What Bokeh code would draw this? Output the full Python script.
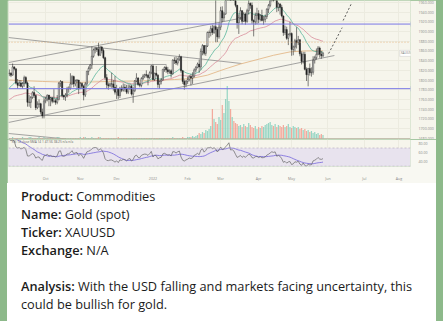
import numpy as np
import pandas as pd
from bokeh.plotting import figure
from bokeh.layouts import column
from bokeh.models import (ColumnDataSource, Range1d, FixedTicker, Label, Span,
                          BoxAnnotation, Div, PrintfTickFormatter)
from bokeh.embed import file_html
from bokeh.resources import INLINE

# ---------------- data (XAUUSD daily, Sep 2021 - May 2022) ----------------
warmup_closes = [1729, 1752, 1753, 1779, 1787, 1786, 1788, 1781, 1781, 1805,
                 1804, 1790, 1792, 1818, 1810, 1814]

closes = [
    # Sep
    1814, 1810, 1827, 1823, 1794, 1789, 1794, 1787, 1793, 1805, 1794, 1754, 1754, 1764, 1774, 1768, 1743, 1750, 1751, 1734, 1726, 1757,
    # Oct
    1761, 1769, 1760, 1763, 1756, 1757, 1754, 1760, 1793, 1797, 1768, 1765, 1769, 1782, 1783, 1792, 1807, 1792, 1798, 1800, 1783,
    # Nov
    1793, 1787, 1769, 1792, 1818, 1824, 1831, 1849, 1862, 1865, 1863, 1851, 1868, 1861, 1846, 1805, 1790, 1788, 1792, 1792, 1785, 1775,
    # Dec
    1782, 1768, 1783, 1779, 1785, 1783, 1775, 1783, 1787, 1771, 1778, 1798, 1804, 1791, 1789, 1803, 1808, 1811, 1810, 1805, 1815, 1829,
    # Jan
    1801, 1814, 1810, 1791, 1797, 1800, 1822, 1826, 1821, 1817, 1819, 1813, 1841, 1840, 1835, 1843, 1848, 1819, 1797, 1791, 1797,
    # Feb
    1801, 1807, 1804, 1808, 1821, 1826, 1833, 1827, 1859, 1871, 1855, 1870, 1898, 1898, 1906, 1898, 1910, 1904, 1889, 1909,
    # Mar
    1943, 1928, 1936, 1966, 1995, 2050, 1993, 1999, 1988, 1954, 1918, 1929, 1943, 1921, 1936, 1921, 1943, 1958, 1954, 1923, 1920, 1933, 1937,
    # Apr
    1925, 1933, 1923, 1925, 1931, 1946, 1954, 1966, 1978, 1974, 1979, 1950, 1957, 1950, 1932, 1898, 1904, 1886, 1894, 1896,
    # May
    1863, 1868, 1881, 1877, 1883, 1854, 1838, 1853, 1822, 1811, 1824, 1815, 1816, 1841, 1846, 1853, 1866, 1853, 1850, 1855,
]
highs = [
    1822, 1816, 1834, 1828, 1824, 1802, 1800, 1800, 1796, 1809, 1808, 1797, 1769, 1767, 1777, 1787, 1770, 1756, 1760, 1753, 1741, 1764,
    1765, 1770, 1769, 1765, 1765, 1781, 1761, 1769, 1796, 1800, 1797, 1770, 1773, 1786, 1787, 1814, 1810, 1809, 1801, 1802, 1800,
    1796, 1795, 1790, 1796, 1819, 1828, 1833, 1869, 1865, 1868, 1868, 1877, 1870, 1870, 1865, 1848, 1812, 1795, 1795, 1815, 1800, 1808,
    1790, 1783, 1786, 1789, 1793, 1792, 1790, 1791, 1791, 1790, 1785, 1800, 1814, 1806, 1795, 1806, 1812, 1813, 1820, 1812, 1818, 1831,
    1832, 1815, 1829, 1812, 1799, 1804, 1823, 1828, 1830, 1827, 1822, 1822, 1843, 1847, 1848, 1846, 1853, 1850, 1820, 1801, 1800,
    1807, 1810, 1812, 1816, 1824, 1829, 1836, 1842, 1865, 1874, 1872, 1872, 1900, 1902, 1912, 1914, 1913, 1974, 1909, 1917,
    1951, 1952, 1940, 1971, 2002, 2070, 2052, 2001, 2009, 1990, 1955, 1935, 1950, 1944, 1940, 1939, 1947, 1966, 1960, 1960, 1925, 1939, 1949,
    1944, 1936, 1945, 1932, 1935, 1948, 1957, 1978, 1981, 1985, 1998, 1983, 1960, 1958, 1955, 1933, 1912, 1910, 1896, 1920,
    1898, 1871, 1885, 1909, 1891, 1884, 1859, 1858, 1858, 1826, 1825, 1834, 1826, 1849, 1850, 1865, 1870, 1869, 1860, 1858,
]
lows = [
    1808, 1806, 1809, 1820, 1791, 1782, 1787, 1785, 1782, 1786, 1791, 1745, 1745, 1742, 1761, 1763, 1738, 1740, 1743, 1729, 1721, 1721,
    1752, 1756, 1746, 1746, 1752, 1753, 1749, 1750, 1758, 1786, 1764, 1759, 1757, 1764, 1774, 1780, 1790, 1785, 1787, 1781, 1771,
    1781, 1783, 1758, 1765, 1788, 1810, 1820, 1823, 1846, 1855, 1858, 1849, 1850, 1855, 1843, 1801, 1782, 1780, 1785, 1784, 1778, 1770,
    1761, 1761, 1763, 1775, 1776, 1776, 1771, 1771, 1780, 1768, 1753, 1775, 1795, 1788, 1785, 1785, 1800, 1804, 1805, 1789, 1801, 1812,
    1799, 1798, 1807, 1784, 1782, 1791, 1799, 1817, 1815, 1812, 1813, 1805, 1811, 1833, 1831, 1830, 1839, 1815, 1792, 1780, 1785,
    1792, 1797, 1789, 1792, 1805, 1816, 1824, 1815, 1821, 1851, 1851, 1850, 1868, 1887, 1890, 1893, 1895, 1878, 1878, 1885,
    1903, 1919, 1921, 1935, 1968, 1992, 1982, 1978, 1980, 1950, 1906, 1895, 1924, 1915, 1920, 1914, 1918, 1935, 1947, 1916, 1890, 1914, 1915,
    1917, 1921, 1921, 1914, 1919, 1926, 1938, 1950, 1962, 1962, 1970, 1940, 1942, 1935, 1929, 1891, 1893, 1883, 1872, 1890,
    1850, 1851, 1859, 1865, 1872, 1849, 1832, 1834, 1820, 1798, 1787, 1809, 1807, 1811, 1834, 1842, 1851, 1846, 1844, 1847,
]
first_open = 1813

volumes = [
    1, 1, 2, 1, 1, 1, 1, 1, 2, 1, 1, 1, 2, 2, 1, 1, 1, 1, 2, 1, 1, 2, 1, 1, 1, 1, 1, 1, 1, 2,
    2, 1, 1, 1, 1, 1, 1, 1, 1, 1, 1, 1, 1, 2, 1, 2, 2, 1, 1, 1, 2, 1, 1, 1, 2, 2, 1, 1, 1, 1,
    1, 1, 1, 1, 1, 1, 2, 1, 1, 1, 1, 1, 1, 1, 1, 1, 1, 1, 1, 1, 1, 1, 1, 1, 1, 1, 1, 1, 1, 1,
    1, 1, 1, 1, 1, 1, 1, 1, 1, 2, 1, 1, 1, 1, 1, 2, 1, 1, 2, 2, 2, 3, 2, 3, 4,
    6, 5, 7, 6, 9, 8, 10, 13, 30, 20, 17, 15, 22, 19, 34, 26, 40, 53, 38, 30, 22, 18, 16, 15, 13,
    14, 12, 15, 13, 12, 16, 14, 12, 11, 13, 10, 12, 11, 13, 12, 14, 15, 16, 17, 14, 13, 15, 12, 14,
    13, 12, 14, 12, 13, 15, 12, 11, 13, 12, 11, 12, 10, 11, 9, 10, 8, 9, 7, 8, 6, 7, 5, 6, 4, 5, 4,
]

# slow moving average (bar index, price)
slow_ma_bars = [0, 20, 40, 60, 80, 100, 110, 120, 130, 140, 150, 160, 170, 180, 190]
slow_ma_vals = [1800, 1797, 1795, 1797, 1798, 1801, 1803, 1810, 1822, 1833, 1842, 1851, 1858, 1860, 1860]

# month ticks (bar index of first trading day) and labels
tick_bars = [22, 43, 65, 87, 108, 128, 151, 171, 193, 215, 236]
tick_labels = ["Oct", "Nov", "Dec", "2022", "Feb", "Mar", "Apr", "May", "Jun", "Jul", "Aug"]
price_ticks = [1680, 1700, 1720, 1740, 1760, 1780, 1800, 1820, 1840, 1860, 1880, 1900, 1920, 1940, 1960]
rsi_ticks = [40, 60, 80]

# drawings (bar index, price)
trend_x0 = [-0.5, -0.5, -0.5, -0.5, -0.5, -0.5]
trend_y0 = [1836, 1887.6, 1832, 1712.4, 1726.8, 1689.7]
trend_x1 = [142.5, 140.7, 95.2, 196.9, 55, 34.4]
trend_y1 = [1928.9, 1834, 1832, 1850.5, 1726.8, 1678.4]
level_prices = [1915.399, 1782.150]
level_texts = ["1915.399", "1782.150"]
proj_x0 = [193.4, 202.2]
proj_y0 = [1854.6, 1922.7]
proj_x1 = [201.6, 207.5]
proj_y1 = [1908.0, 1959.8]
alert_price = 1878
last_price_text = "1855.425"

# ---------------- derived ----------------
n = len(closes)
opens = [first_open] + closes[:-1]
xs = list(range(n))
up = [c >= o for o, c in zip(opens, closes)]
all_c = pd.Series(warmup_closes + closes, dtype=float)
ema_fast = all_c.ewm(span=20, adjust=False).mean().iloc[len(warmup_closes):].tolist()
ema_mid = all_c.ewm(span=50, adjust=False).mean().iloc[len(warmup_closes):].tolist()
d = all_c.diff()
g = d.clip(lower=0).ewm(alpha=1 / 14, adjust=False).mean()
lo = (-d.clip(upper=0)).ewm(alpha=1 / 14, adjust=False).mean()
rsi_all = 100 - 100 / (1 + g / lo)
rsi_ma_all = rsi_all.rolling(14, min_periods=1).mean()
rsi = rsi_all.iloc[len(warmup_closes):].tolist()
rsi_ma = rsi_ma_all.iloc[len(warmup_closes):].tolist()

src = ColumnDataSource(dict(
    x=xs, o=opens, h=highs, l=lows, c=closes,
    top=[max(o, c) for o, c in zip(opens, closes)],
    bot=[min(o, c) for o, c in zip(opens, closes)],
    body=["#ffffff" if u else "#1e1e1e" for u in up],
    volc=["#86d0bd" if u else "#f29c8f" for u in up],
    vol=volumes, ef=ema_fast, em=ema_mid, rsi=rsi, rsima=rsi_ma,
))

BG = "#f6f5ec"
xr = Range1d(-0.5, 243)

# ---------------- price panel ----------------
p = figure(width=429, height=139, x_range=xr, y_range=Range1d(1677.3, 1964),
           output_backend="svg", toolbar_location=None, y_axis_location="right",
           min_border_left=1, min_border_right=16, min_border_top=0, min_border_bottom=0,
           background_fill_color=BG, border_fill_color=BG, outline_line_color=None,
           margin=(0, 7, 0, 7))
p.extra_y_ranges = {"vol": Range1d(-0.6, 138.4)}
p.xaxis.visible = False
p.xaxis.ticker = FixedTicker(ticks=tick_bars)
ya = p.yaxis[0]
ya.ticker = FixedTicker(ticks=price_ticks)
ya.formatter = PrintfTickFormatter(format="%.3f")
ya.major_label_text_font_size = "3.6px"
ya.major_label_text_color = "#8a8a8a"
ya.major_label_text_font = "Open Sans"
ya.axis_line_color = None
ya.major_tick_line_color = None
ya.minor_tick_line_color = None
ya.major_label_standoff = 2
p.xgrid.grid_line_color = "#ecebe0"
p.ygrid.grid_line_color = "#ecebe0"

p.vbar(x="x", width=0.75, top="vol", bottom=0, y_range_name="vol", source=src,
       fill_color="volc", line_color=None, fill_alpha=0.85)
p.add_layout(Span(location=0, dimension="width", y_range_name="vol",
                  line_color="#b8b3a0", line_width=1.2))

p.segment(x0=trend_x0, y0=trend_y0, x1=trend_x1, y1=trend_y1,
          line_color="#8d8d8d", line_width=0.8)
p.line(x=slow_ma_bars, y=slow_ma_vals, line_color="#e3b98a", line_width=0.9)
p.line(x="x", y="em", source=src, line_color="#d98c9a", line_width=0.8)
p.line(x="x", y="ef", source=src, line_color="#58b59c", line_width=0.8)
for lp in level_prices:
    p.add_layout(Span(location=lp, dimension="width", line_color="#7a78e6", line_width=1))
p.add_layout(Span(location=alert_price, dimension="width", line_color="#e6a96a",
                  line_width=0.8, line_dash="1 2"))

p.segment(x0="x", y0="l", x1="x", y1="h", source=src, line_color="#2a2a2a", line_width=0.6)
p.vbar(x="x", width=0.72, top="top", bottom="bot", source=src,
       fill_color="body", line_color="#2a2a2a", line_width=0.5)

p.segment(x0=proj_x0, y0=proj_y0, x1=proj_x1, y1=proj_y1, line_color="#333333",
          line_width=0.8, line_dash="2 2")

for lp, lt in zip(level_prices, level_texts):
    p.add_layout(Label(x=243.2, y=lp, text=lt, text_font_size="3.6px",
                       text_color="white", text_baseline="middle", text_font="Open Sans",
                       background_fill_color="#2424e6", padding=1))
p.add_layout(Label(x=243.2, y=closes[-1], text=last_price_text, text_font_size="3.6px",
                   text_color="#555555", text_baseline="middle", text_font="Open Sans",
                   background_fill_color="white", padding=1))
p.add_layout(Label(x=236.5, y=closes[-1], text="XAUUSD", text_font_size="3.2px",
                   text_color="#777777", text_baseline="middle", text_font="Open Sans",
                   background_fill_color="white", border_line_color="#cccccc",
                   border_line_width=0.5, padding=1))

# ---------------- RSI panel ----------------
r = figure(width=429, height=44, x_range=xr, y_range=Range1d(29.3, 88.8),
           output_backend="svg", toolbar_location=None, y_axis_location="right",
           min_border_left=1, min_border_right=16, min_border_top=0, min_border_bottom=10,
           background_fill_color=BG, border_fill_color="#f8f8f2", outline_line_color=None,
           margin=(0, 7, 0, 7))
r.add_layout(BoxAnnotation(bottom=30, top=70, fill_color="#e8e3ee", fill_alpha=1,
                           line_color=None, level="underlay"))
for lv in (70, 30):
    r.add_layout(Span(location=lv, dimension="width", line_color="#b9b0c2",
                      line_width=0.7, line_dash="2 2"))
r.line(x="x", y="rsima", source=src, line_color="#7566dc", line_width=0.8)
r.line(x="x", y="rsi", source=src, line_color="#666666", line_width=0.7)
r.xgrid.grid_line_color = "#ecebe0"
r.ygrid.grid_line_color = None
xa = r.xaxis[0]
xa.ticker = FixedTicker(ticks=tick_bars)
xa.major_label_overrides = {b: t for b, t in zip(tick_bars, tick_labels)}
xa.major_label_text_font_size = "3.6px"
xa.major_label_text_color = "#8a8a8a"
xa.major_label_text_font = "Open Sans"
xa.axis_line_color = None
xa.major_tick_line_color = None
xa.minor_tick_line_color = None
xa.major_label_standoff = 3
yr = r.yaxis[0]
yr.ticker = FixedTicker(ticks=rsi_ticks)
yr.formatter = PrintfTickFormatter(format="%.2f")
yr.major_label_text_font_size = "3.6px"
yr.major_label_text_color = "#8a8a8a"
yr.major_label_text_font = "Open Sans"
yr.axis_line_color = None
yr.major_tick_line_color = None
yr.minor_tick_line_color = None
yr.major_label_standoff = 2
r.add_layout(Label(x=1.5, y=83.5, text="RSI  14 close SMA 14 1   47.56   38.25  n/a  n/a",
                   text_font_size="3.2px", text_color="#666666", text_baseline="middle",
                   text_font="Open Sans"))

# ---------------- text card ----------------
html = (
    "<div style=\"font-family:'Open Sans';font-size:12.75px;line-height:18px;"
    "color:#1b1b1b;padding:4px 0 0 14px;white-space:nowrap;\">"
    "<span style='font-weight:600'>Product:</span> Commodities<br>"
    "<span style='font-weight:600'>Name:</span> Gold (spot)<br>"
    "<span style='font-weight:600'>Ticker:</span> XAUUSD<br>"
    "<span style='font-weight:600'>Exchange:</span> N/A<br><br>"
    "<span style='font-weight:600'>Analysis:</span> With the USD falling and markets facing uncertainty, this<br>"
    "could be bullish for gold.</div>"
)
div = Div(text=html, width=429, height=138, margin=(0, 7, 0, 7),
          styles={"background-color": "#ffffff"})

root = column(p, r, div, spacing=0, styles={"background-color": "#8db98a"})
open("out.html", "w").write(file_html(root, INLINE))
